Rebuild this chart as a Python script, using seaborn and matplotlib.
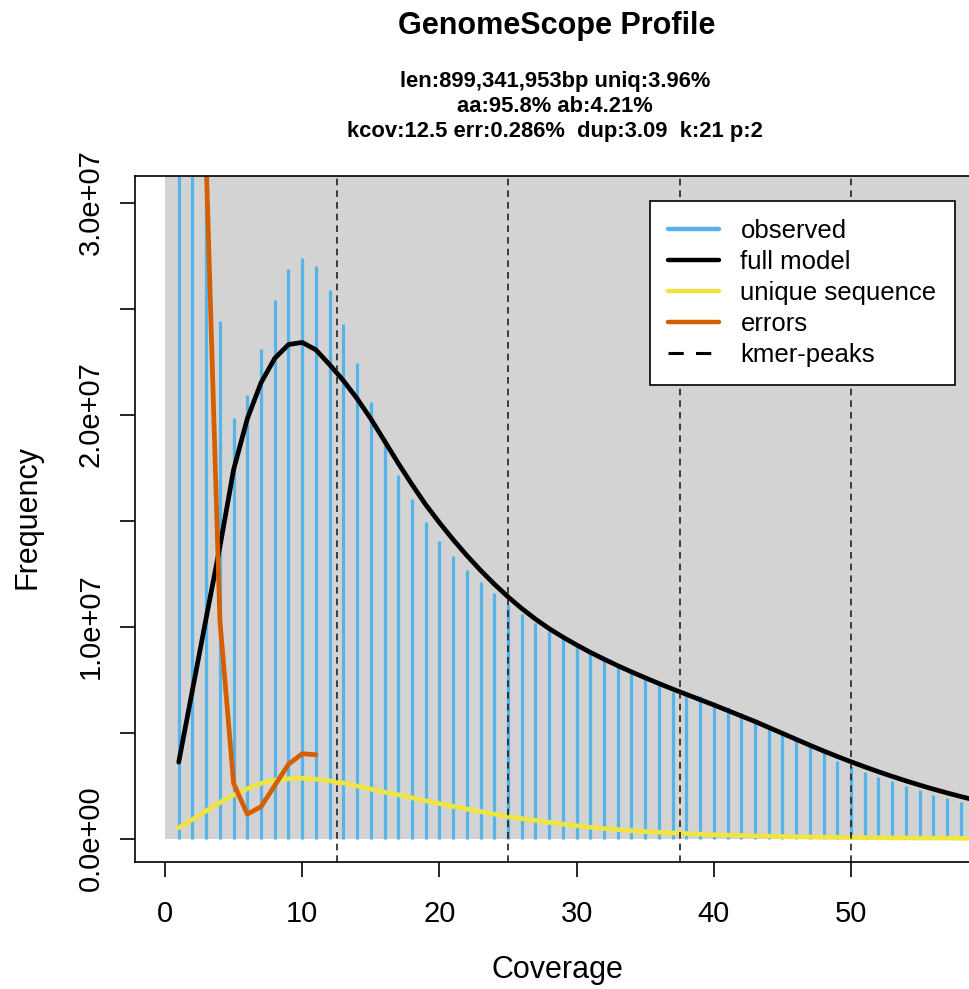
import numpy as np
import pandas as pd
import matplotlib
matplotlib.use("Agg")
import matplotlib.pyplot as plt
import seaborn as sns
from matplotlib.patches import Rectangle
from matplotlib.lines import Line2D

# ---------------- data ----------------
coverage_obs = list(range(1, 59))
observed = [2.0e8, 6.5e7, 3.4e7, 2.443e7, 1.982e7, 2.093e7, 2.31e7, 2.538e7, 2.686e7, 2.738e7,
            2.699e7, 2.589e7, 2.427e7, 2.245e7, 2.058e7, 1.884e7, 1.715e7, 1.601e7, 1.493e7, 1.405e7,
            1.332e7, 1.266e7, 1.208e7, 1.157e7, 1.101e7, 1.058e7, 1.015e7, 0.977e7, 0.942e7, 0.902e7,
            0.870e7, 0.842e7, 0.810e7, 0.782e7, 0.756e7, 0.723e7, 0.692e7, 0.690e7, 0.672e7, 0.645e7,
            0.622e7, 0.593e7, 0.564e7, 0.533e7, 0.504e7, 0.473e7, 0.441e7, 0.410e7, 0.366e7, 0.342e7,
            0.315e7, 0.292e7, 0.271e7, 0.248e7, 0.229e7, 0.205e7, 0.190e7, 0.174e7]

coverage_model = list(range(1, 60))
full_model = [0.36, 0.70, 1.04, 1.375, 1.74, 1.98, 2.15, 2.265, 2.33, 2.34,
              2.305, 2.235, 2.16, 2.075, 1.98, 1.875, 1.77, 1.67, 1.575, 1.49,
              1.41, 1.335, 1.265, 1.2, 1.14, 1.085, 1.035, 0.99, 0.95, 0.913,
              0.878, 0.846, 0.815, 0.786, 0.758, 0.731, 0.705, 0.68, 0.655, 0.63,
              0.604, 0.578, 0.552, 0.524, 0.496, 0.468, 0.44, 0.413, 0.387, 0.362,
              0.338, 0.315, 0.293, 0.272, 0.252, 0.233, 0.215, 0.198, 0.182]
unique_seq = [0.05, 0.09, 0.13, 0.17, 0.205, 0.235, 0.26, 0.275, 0.282, 0.284,
              0.28, 0.272, 0.262, 0.248, 0.233, 0.219, 0.206, 0.192, 0.178, 0.165,
              0.152, 0.139, 0.127, 0.115, 0.104, 0.094, 0.085, 0.076, 0.068, 0.06,
              0.053, 0.047, 0.042, 0.037, 0.033, 0.029, 0.026, 0.023, 0.021, 0.018,
              0.016, 0.014, 0.012, 0.011, 0.009, 0.008, 0.007, 0.006, 0.005, 0.005,
              0.004, 0.004, 0.003, 0.003, 0.002, 0.002, 0.002, 0.001, 0.001]
coverage_err = list(range(1, 12))
errors = [30.0, 12.0, 3.2, 1.03, 0.26, 0.115, 0.15, 0.25, 0.35, 0.40, 0.395]
kmer_peaks = [12.5, 25, 37.5, 50]

title = "GenomeScope Profile"
subtitle = ["len:899,341,953bp uniq:3.96%",
            "aa:95.8% ab:4.21%",
            "kcov:12.5 err:0.286%  dup:3.09  k:21 p:2"]
x_ticks = [0, 10, 20, 30, 40, 50]
y_ticks = [0, 5e6, 1e7, 1.5e7, 2e7, 2.5e7, 3e7]
y_ticklabels = ["0.0e+00", "", "1.0e+07", "", "2.0e+07", "", "3.0e+07"]
legend_labels = ["observed", "full model", "unique sequence", "errors", "kmer-peaks"]

# ---------------- style ----------------
sns.set_style("white")
plt.rcParams["font.family"] = ["Liberation Sans", "DejaVu Sans"]
for k in ["text.color", "axes.labelcolor", "xtick.color", "ytick.color", "axes.edgecolor"]:
    plt.rcParams[k] = "black"

C_OBS = "#56B4E9"
C_ERR = "#D55E00"
C_UNQ = "#F0E442"

W, H = 970, 989
fig = plt.figure(figsize=(W / 100, H / 100), dpi=100)
px_per_unit = 13.72
ax = fig.add_axes([135 / W, 127 / H, 850 / W, 686 / H])
ax.set_xlim(-30 / px_per_unit, 820 / px_per_unit)
y_per_px = 1e7 / 212.0
ax.set_ylim(-(862 - 838.5) * y_per_px, (838.5 - 176) * y_per_px)
ymax = ax.get_ylim()[1]

ax.add_patch(Rectangle((0, 0), 200, ymax, facecolor="#D3D3D3", edgecolor="none", zorder=0))

ax.vlines(coverage_obs, 0, observed, colors=C_OBS, linewidth=2.3, zorder=2)

df_model = pd.DataFrame({"cov": coverage_model,
                         "full": np.array(full_model) * 1e7,
                         "uniq": np.array(unique_seq) * 1e7})
df_err = pd.DataFrame({"cov": coverage_err, "err": np.array(errors) * 1e7})

sns.lineplot(data=df_model, x="cov", y="full", ax=ax, color="black", linewidth=3.4, zorder=3)
sns.lineplot(data=df_model, x="cov", y="uniq", ax=ax, color=C_UNQ, linewidth=3.4, zorder=4)
sns.lineplot(data=df_err, x="cov", y="err", ax=ax, color=C_ERR, linewidth=3.4, zorder=5)

for p in kmer_peaks:
    ax.axvline(p, color="#222222", linestyle=(0, (4, 3)), linewidth=1.2, zorder=6)

for side in ["left", "bottom", "top", "right"]:
    ax.spines[side].set_visible(True)
    ax.spines[side].set_color("black")
    ax.spines[side].set_linewidth(1.2)
    ax.spines[side].set_zorder(7)

ax.set_xticks(x_ticks)
ax.set_xticklabels([str(t) for t in x_ticks])
ax.set_yticks(y_ticks)
ax.set_yticklabels(y_ticklabels, rotation=90, va="center")
ax.tick_params(axis="both", direction="out", length=11, width=1.2, color="black",
               labelcolor="black", labelsize=21, left=True, bottom=True)
ax.tick_params(axis="x", pad=16)
ax.tick_params(axis="y", pad=11)
ax.set_xlabel("")
ax.set_ylabel("")

fig.text(557 / W, 1 - 970 / H, "Coverage", ha="center", va="center", fontsize=22, color="black")
fig.text(28 / W, 1 - 517 / H, "Frequency", ha="center", va="center", fontsize=22,
         rotation=90, color="black")

fig.text(557 / W, 1 - 26 / H, title, ha="center", va="center", fontsize=22,
         fontweight="bold", color="black")
for i, line in enumerate(subtitle):
    fig.text(555 / W, 1 - (82 + 24.5 * i) / H, line, ha="center", va="center",
             fontsize=15.8, fontweight="bold", color="black")

handles = [Line2D([], [], color=C_OBS, lw=3.2),
           Line2D([], [], color="black", lw=3.2),
           Line2D([], [], color=C_UNQ, lw=3.2),
           Line2D([], [], color=C_ERR, lw=3.2),
           Line2D([], [], color="black", lw=2.2, linestyle=(0, (5, 4)))]
leg = ax.legend(handles, legend_labels, loc="upper left",
                bbox_to_anchor=(650 / W, 1 - 200.7 / H), bbox_transform=fig.transFigure,
                borderaxespad=0, fontsize=18.5, frameon=True, fancybox=False,
                framealpha=1, facecolor="white", edgecolor="black",
                handlelength=1.95, handletextpad=0.85, labelspacing=0.27, borderpad=0.72)
leg.get_frame().set_linewidth(1.2)
for t in leg.get_texts():
    t.set_color("black")
leg.set_zorder(10)

fig.savefig("out.png", dpi=100, facecolor="white")
